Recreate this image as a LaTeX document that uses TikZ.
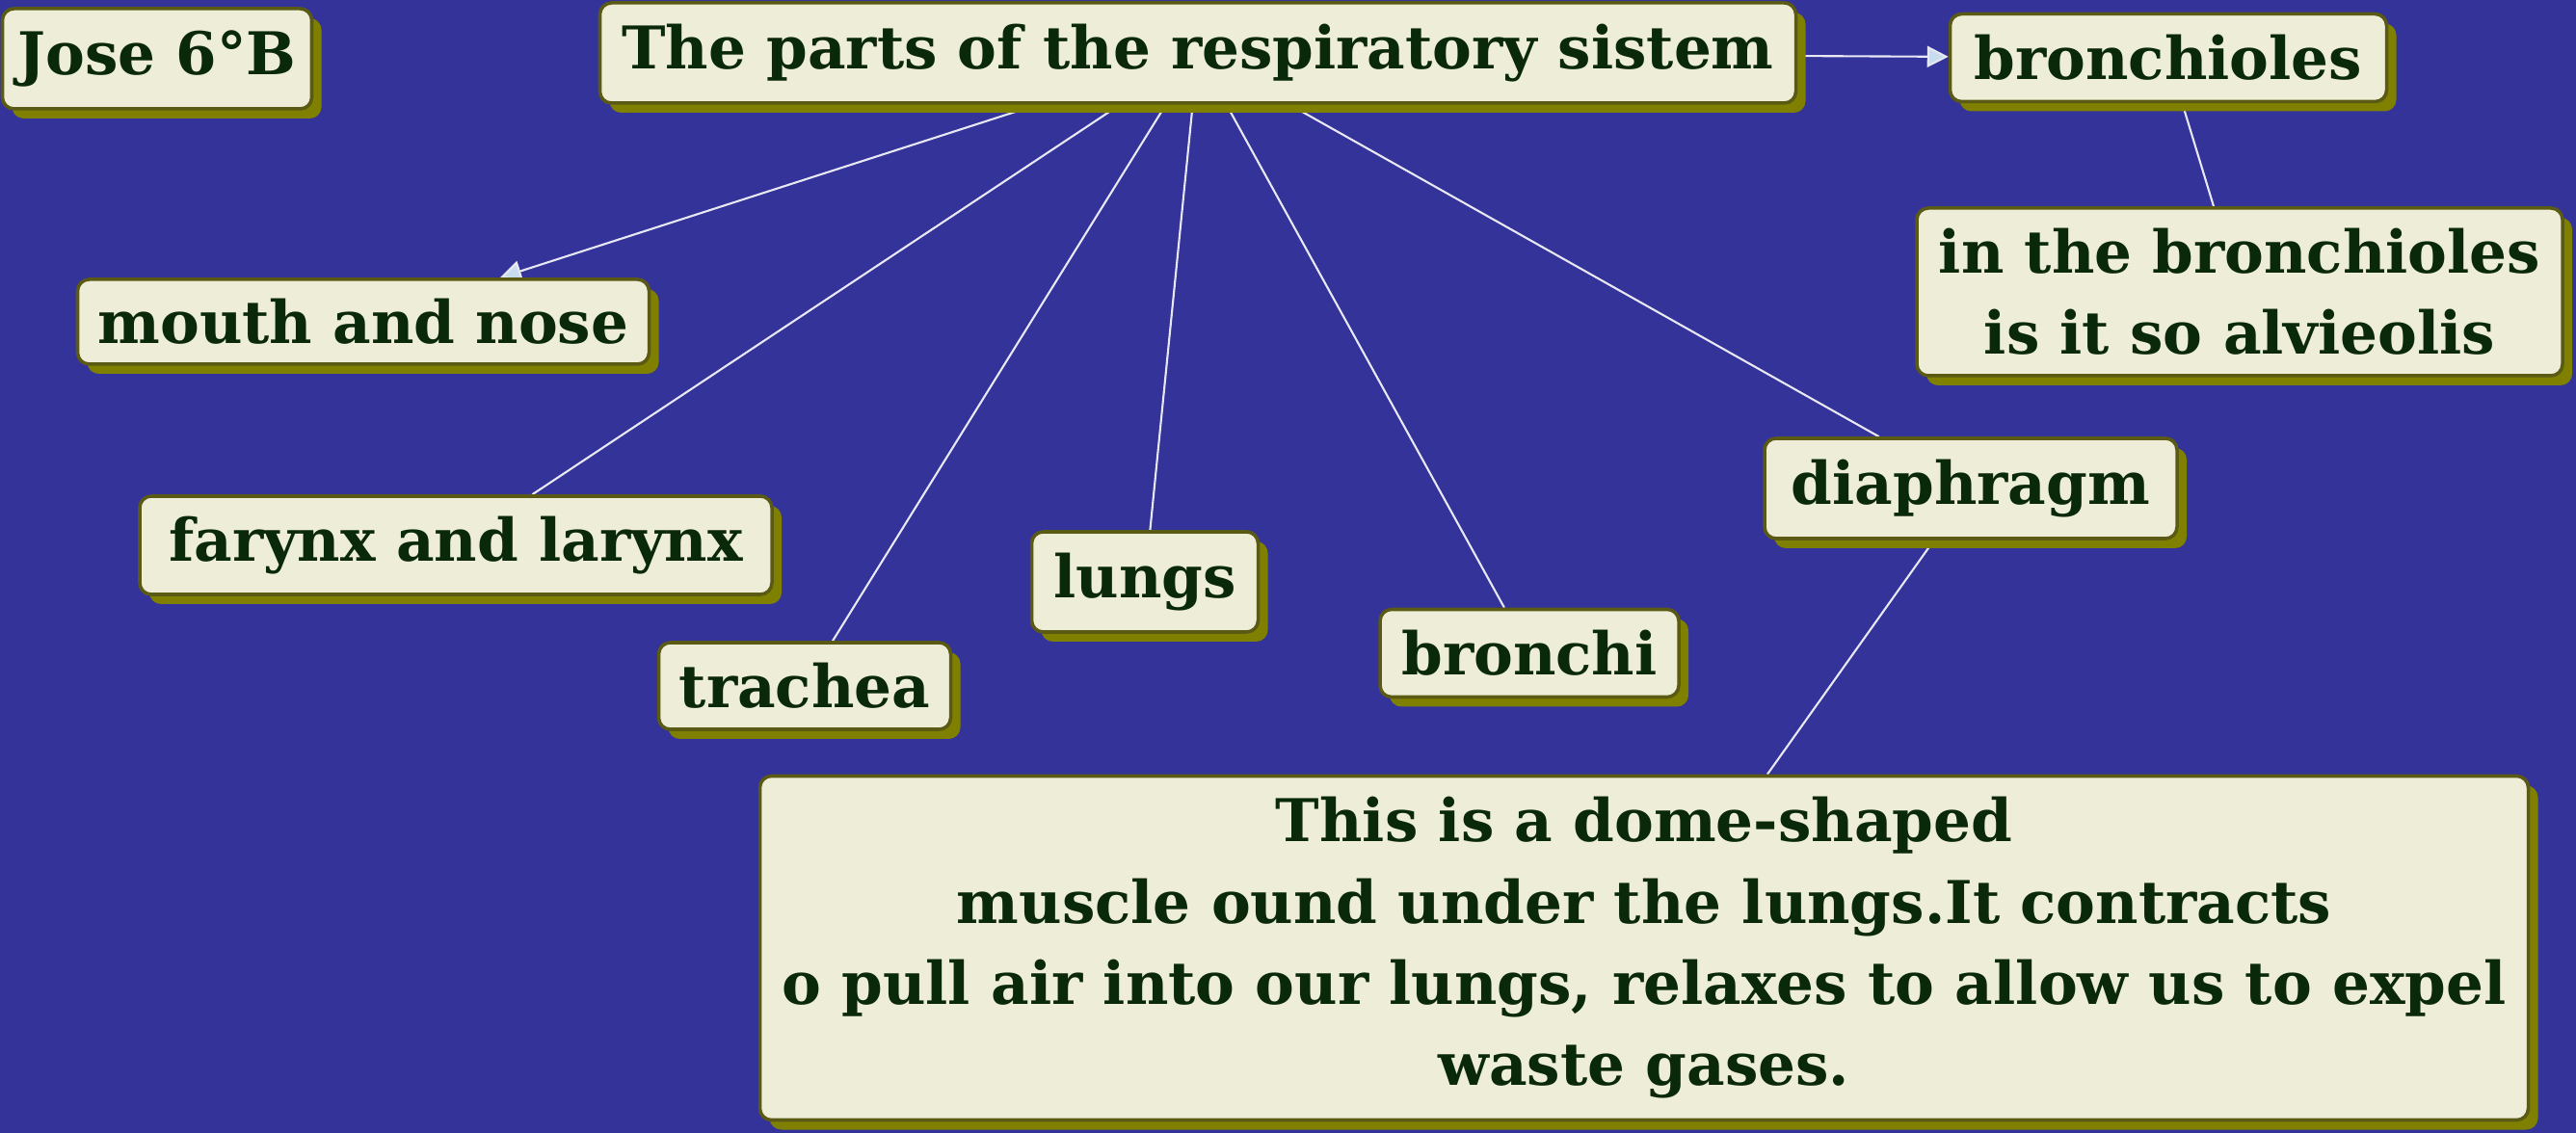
\documentclass[tikz,border=0pt]{standalone}
\usepackage{fontspec}
\setmainfont{DejaVu Serif}
\usetikzlibrary{arrows.meta,shadows}
\definecolor{bgblue}{RGB}{51,51,153}
\definecolor{boxfill}{RGB}{237,237,216}
\definecolor{boxline}{RGB}{90,90,20}
\definecolor{boxshadow}{RGB}{128,128,0}
\definecolor{txtgreen}{RGB}{10,40,10}
\definecolor{linkcol}{RGB}{232,232,245}
\definecolor{tipfill}{RGB}{200,220,240}
\pgfdeclarelayer{bg}
\pgfdeclarelayer{links}
\pgfsetlayers{bg,links,main}
\tikzset{
  box/.style={draw=boxline,line width=1pt,fill=boxfill,rounded corners=0.12cm,
    text=txtgreen,font=\fontsize{17.4}{24}\selectfont\bfseries,align=center,
    inner xsep=0.1cm,inner ysep=0.05cm,
    drop shadow={shadow xshift=0.1cm,shadow yshift=-0.1cm,fill=boxshadow,opacity=1}},
  link/.style={draw=linkcol,line width=0.6pt},
  arr/.style={link,-{Triangle[length=0.22cm,width=0.22cm,fill=tipfill]}}
}
\begin{document}
\begin{tikzpicture}
\begin{pgfonlayer}{bg}
\fill[bgblue] (0,0) rectangle (26.73,-11.76);
\end{pgfonlayer}
\useasboundingbox (0,0) rectangle (26.73,-11.76);
% the nodes
\node[box,minimum width=3.21cm,minimum height=1.04cm] (jose) at (1.63,-0.61) {Jose 6°B};
\node[box,minimum width=12.41cm,minimum height=1.04cm] (title) at (12.43,-0.55) {The parts of the respiratory sistem};
\node[box,minimum width=4.53cm,minimum height=0.91cm] (bronchioles) at (22.50,-0.60) {bronchioles};
\node[box,minimum width=6.70cm,minimum height=1.74cm] (alveoli) at (23.24,-3.03) {in the bronchioles\\is it so alvieolis};
\node[box,minimum width=5.93cm,minimum height=0.88cm] (mouth) at (3.77,-3.34) {mouth and nose};
\node[box,minimum width=6.56cm,minimum height=1.02cm] (farynx) at (4.73,-5.66) {farynx and larynx};
\node[box,minimum width=3.03cm,minimum height=0.90cm] (trachea) at (8.35,-7.12) {trachea};
\node[box,minimum width=2.35cm,minimum height=1.04cm] (lungs) at (11.88,-6.04) {lungs};
\node[box,minimum width=3.10cm,minimum height=0.91cm] (bronchi) at (15.87,-6.78) {bronchi};
\node[box,minimum width=4.28cm,minimum height=1.04cm] (diaphragm) at (20.45,-5.07) {diaphragm};
\node[box,minimum width=18.35cm,minimum height=3.57cm] (dome) at (17.06,-9.84) {This is a dome-shaped\\muscle ound under the lungs.It contracts\\o pull air into our lungs, relaxes to allow us to expel\\waste gases.};
% the links, under the boxes
\begin{pgfonlayer}{links}
\draw[arr] (title) -- (bronchioles);
\draw[arr] (title) -- (mouth);
\draw[link] (title) -- (farynx);
\draw[link] (title) -- (trachea);
\draw[link] (title) -- (lungs);
\draw[link] (title) -- (bronchi);
\draw[link] (title) -- (diaphragm);
\draw[link] (bronchioles) -- (alveoli);
\draw[link] (diaphragm) -- (dome);
\end{pgfonlayer}
\end{tikzpicture}
\end{document}
